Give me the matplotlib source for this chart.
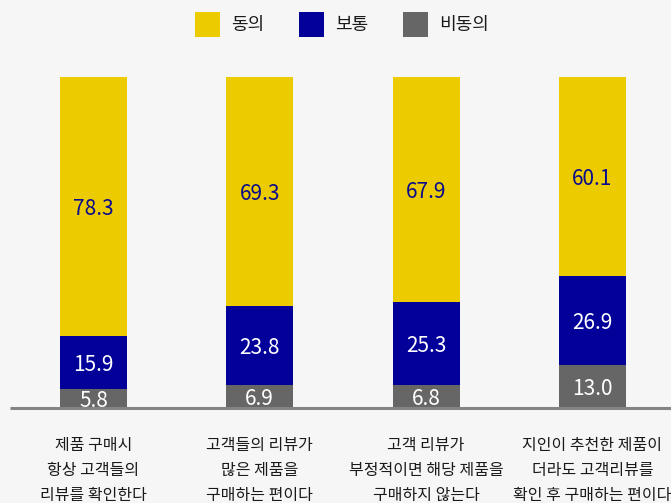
import matplotlib
matplotlib.use("Agg")
import matplotlib.pyplot as plt
from matplotlib.patches import Rectangle

# Survey data (%), bottom-to-top stacking: 비동의, 보통, 동의
categories = [
    "제품 구매시\n항상 고객들의\n리뷰를 확인한다",
    "고객들의 리뷰가\n많은 제품을\n구매하는 편이다",
    "고객 리뷰가\n부정적이면 해당 제품을\n구매하지 않는다",
    "지인이 추천한 제품이\n더라도 고객리뷰를\n확인 후 구매하는 편이다",
]
agree = [78.3, 69.3, 67.9, 60.1]
neutral = [15.9, 23.8, 25.3, 26.9]
disagree = [5.8, 6.9, 6.8, 13.0]
series_names = ["동의", "보통", "비동의"]

C_YELLOW = "#ECCC00"
C_BLUE = "#03009A"
C_GRAY = "#666666"
BG = "#f6f6f6"

KR = ["Noto Sans CJK KR", "DejaVu Sans"]
num_kw = dict(family=KR, fontsize=15)

W, H = 671, 503
fig = plt.figure(figsize=(W / 100, H / 100), dpi=100, facecolor=BG)

# axes spans full width; bottom at baseline pixel 408, top at 77
ax_bottom = (H - 408) / H
ax_height = (408 - 77) / H
ax = fig.add_axes([0, ax_bottom, 1, ax_height])
ax.set_facecolor("none")

spacing = 166.3
first = 93.5
x0 = -first / spacing
x1 = (W - first) / spacing
ax.set_xlim(x0, x1)
ax.set_ylim(0, 100)
ax.axis("off")

xs = list(range(len(categories)))
bw = 67 / spacing

ax.bar(xs, disagree, width=bw, color=C_GRAY, zorder=2)
ax.bar(xs, neutral, width=bw, bottom=disagree, color=C_BLUE, zorder=2)
bot3 = [d + n for d, n in zip(disagree, neutral)]
ax.bar(xs, agree, width=bw, bottom=bot3, color=C_YELLOW, zorder=2)

# value labels centred in each segment
for x, d, n, a in zip(xs, disagree, neutral, agree):
    ax.text(x, d / 2, f"{d:.1f}", ha="center", va="center_baseline", color="white",
            zorder=3, **num_kw)
    ax.text(x, d + n / 2, f"{n:.1f}", ha="center", va="center_baseline", color="white",
            zorder=3, **num_kw)
    ax.text(x, d + n + a / 2, f"{a:.1f}", ha="center", va="center_baseline",
            color="#0a0a8c", zorder=3, **num_kw)

# baseline
ax.plot([(10 - first) / spacing, x1], [0, 0], color="#848484", lw=2.2,
        solid_capstyle="butt", zorder=4, clip_on=False)

# category labels below the baseline (data units: 100 = 331 px)
label_y = -(437 - 408) / (408 - 77) * 100
for x, lab in zip(xs, categories):
    ax.text(x, label_y, lab, ha="center", va="top",
            fontsize=11.5, family=KR, color="#1a1a1a", linespacing=1.62,
            clip_on=False)

# legend at the top
legend_items = [(195, C_YELLOW, series_names[0]),
                (299, C_BLUE, series_names[1]),
                (403, C_GRAY, series_names[2])]
for px, col, name in legend_items:
    fig.patches.append(Rectangle((px / W, 1 - 37 / H), 25 / W, 25 / H,
                                 transform=fig.transFigure, facecolor=col,
                                 edgecolor="none"))
    fig.text((px + 36) / W, 1 - 25 / H, name, ha="left", va="center",
             fontsize=13, family=KR, color="#1a1a1a")

fig.savefig("out.png", dpi=100, facecolor=BG)
